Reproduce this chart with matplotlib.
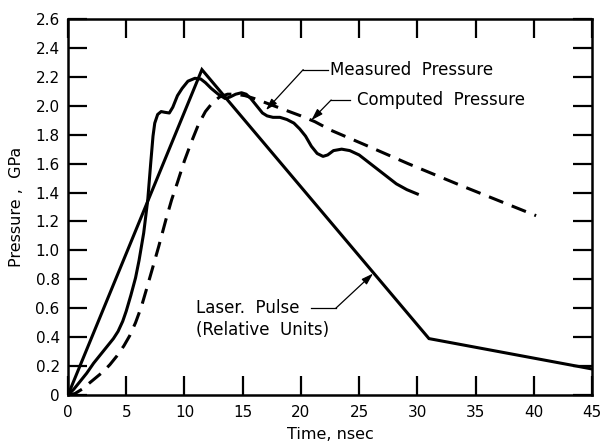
import matplotlib
matplotlib.use("Agg")
import matplotlib.pyplot as plt

# ---- data ----
laser_t = [0, 11.5, 31.0, 45]
laser_p = [0, 2.25, 0.39, 0.18]

meas_t = [0, 0.5, 1.0, 1.6, 2.2, 2.8, 3.4, 3.9, 4.3, 4.7, 5.0, 5.4, 5.8, 6.1, 6.5,
          6.85, 7.1, 7.3, 7.45, 7.7, 8.0, 8.3, 8.7, 9.0, 9.4, 9.8, 10.3, 10.9,
          11.4, 11.8, 12.3, 12.9, 13.5, 13.9, 14.4, 14.9, 15.3, 15.7, 16.2, 16.7,
          17.1, 17.6, 18.2, 18.8, 19.4, 19.9, 20.4, 20.9, 21.4, 21.9, 22.3, 22.8,
          23.5, 24.2, 25.0, 25.8, 26.6, 27.4, 28.2, 29.1, 30.0]
meas_p = [0, 0.04, 0.09, 0.15, 0.22, 0.28, 0.34, 0.39, 0.44, 0.51, 0.58, 0.69,
          0.81, 0.93, 1.12, 1.35, 1.60, 1.79, 1.88, 1.94, 1.96, 1.955, 1.95, 1.99,
          2.07, 2.12, 2.17, 2.19, 2.185, 2.16, 2.12, 2.08, 2.05, 2.06, 2.08, 2.09,
          2.08, 2.05, 2.00, 1.95, 1.93, 1.92, 1.92, 1.905, 1.88, 1.84, 1.79, 1.72,
          1.67, 1.65, 1.66, 1.69, 1.70, 1.69, 1.66, 1.61, 1.56, 1.51, 1.46, 1.42,
          1.39]

comp_t = [0, 0.6, 1.2, 1.8, 2.4, 3.0, 3.6, 4.2, 4.8, 5.3, 5.8, 6.3, 6.7, 7.2, 7.8,
          8.4, 8.9, 9.4, 10.0, 10.6, 11.2, 11.8, 12.4, 13.0, 13.7, 14.4, 15.2,
          16.0, 17.0, 18.0, 19.0, 20.0, 21.2, 22.6, 25.5, 29.2, 33.7, 40.2]
comp_p = [0, 0.01, 0.04, 0.08, 0.12, 0.16, 0.21, 0.27, 0.34, 0.41, 0.50, 0.61,
          0.72, 0.86, 1.03, 1.21, 1.35, 1.47, 1.62, 1.75, 1.87, 1.96, 2.02, 2.06,
          2.08, 2.08, 2.07, 2.05, 2.02, 1.99, 1.96, 1.93, 1.89, 1.83, 1.73, 1.60,
          1.45, 1.24]

x_ticks = [0, 5, 10, 15, 20, 25, 30, 35, 40, 45]
y_ticks = [0, 0.2, 0.4, 0.6, 0.8, 1.0, 1.2, 1.4, 1.6, 1.8, 2.0, 2.2, 2.4, 2.6]
y_labels = ['0', '0.2', '0.4', '0.6', '0.8', '1.0', '1.2', '1.4', '1.6', '1.8',
            '2.0', '2.2', '2.4', '2.6']

plt.rcParams['font.family'] = ['DejaVu Sans']

fig = plt.figure(figsize=(6.04, 4.43), dpi=100)
ax = fig.add_axes([68 / 604, 48 / 443, 524 / 604, 376 / 443])

lw = 2.2
ax.plot(laser_t, laser_p, color='black', lw=lw, solid_joinstyle='miter')
ax.plot(meas_t, meas_p, color='black', lw=lw)
ax.plot(comp_t, comp_p, color='black', lw=lw, ls=(0, (5.0, 3.0)))

ax.set_xlim(0, 45)
ax.set_ylim(0, 2.6)
ax.set_xticks(x_ticks)
ax.set_yticks(y_ticks)
ax.set_yticklabels(y_labels)
ax.tick_params(direction='in', length=14, width=1.6, top=True, right=True,
               labelsize=11, pad=6)
ax.tick_params(axis='x', pad=7)
for s in ax.spines.values():
    s.set_linewidth(1.8)

ax.set_xlabel('Time, nsec', fontsize=11.5, labelpad=5)
ax.set_ylabel('Pressure ,  GPa', fontsize=11.5, labelpad=8)


# annotations with elbow leaders
def leader(start, elbow, tip):
    ax.plot([start[0], elbow[0]], [start[1], elbow[1]], color='black', lw=0.9)
    ax.annotate('', xy=tip, xytext=elbow,
                arrowprops=dict(arrowstyle='-|>,head_length=0.7,head_width=0.22',
                                color='black', lw=0.9, shrinkA=0, shrinkB=0))


fs = 12
leader((22.3, 2.25), (20.2, 2.25), (17.0, 1.97))
ax.text(22.5, 2.25, 'Measured  Pressure', fontsize=fs, va='center', ha='left')

leader((24.2, 2.04), (22.6, 2.04), (20.9, 1.90))
ax.text(24.8, 2.04, 'Computed  Pressure', fontsize=fs, va='center', ha='left')

leader((20.9, 0.60), (23.0, 0.60), (26.2, 0.84))
ax.text(11.0, 0.60, 'Laser.  Pulse', fontsize=fs, va='center', ha='left')
ax.text(11.0, 0.45, '(Relative  Units)', fontsize=fs, va='center', ha='left')

fig.savefig('out.png', dpi=100)
